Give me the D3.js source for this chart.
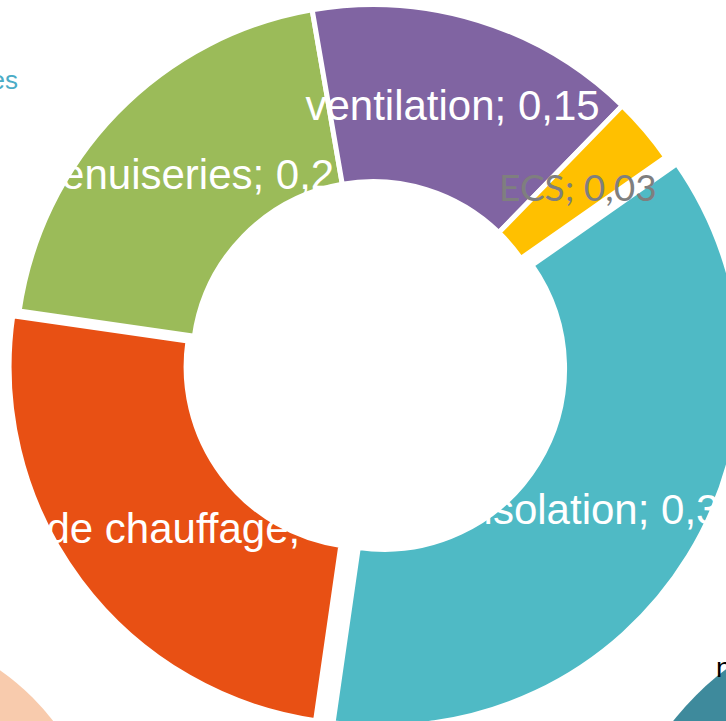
<!DOCTYPE html>
<html>
<head>
<meta charset="utf-8">
<script src="https://cdn.jsdelivr.net/npm/d3@7"></script>
<style>
  body { margin: 0; background: #fff; }
  svg { display: block; }
</style>
</head>
<body>
<div id="donut-chart"></div>
<script>
// share of each kind of work
const categories = ['isolation', 'moyen de chauffage', 'menuiseries', 'ventilation', 'ECS'];
const values = [0.37, 0.25, 0.2, 0.15, 0.03];

// styles
const colors = ['#4FBAC5', '#E85014', '#9BBB59', '#8064A2', '#FFC000'];
const explode = { 'isolation': 13, 'moyen de chauffage': 8 };
const grayLabels = ['ECS'];

const width = 726, height = 721;
const cx = 373, cy = 362;
const outerR = 357.5, innerR = 180.5;
const startDeg = 55;

const fr = d3.formatLocale({ decimal: ',', thousands: ' ', grouping: [3], currency: ['', ' €'] });
const fmt = fr.format('.2~f');

let data = categories.map((c, i) => ({ category: c, value: values[i] }));

let svg = d3.select('#donut-chart')
  .append('svg')
  .attr('width', width)
  .attr('height', height)
  .style('overflow', 'hidden');

//bits of the neighbouring charts cut by the frame
svg.append('circle')
  .attr('cx', -140).attr('cy', 870).attr('r', 244)
  .attr('fill', '#F8CBAD');
svg.append('circle')
  .attr('cx', 900).attr('cy', 900).attr('r', 289)
  .attr('fill', '#3E8A9C');
svg.append('text')
  .attr('x', 18).attr('y', 89)
  .attr('text-anchor', 'end')
  .attr('font-family', 'Liberation Sans, Arial, sans-serif')
  .attr('font-size', '26px')
  .attr('fill', '#4BACC6')
  .text('catégories');
svg.append('text')
  .attr('x', 716).attr('y', 677)
  .attr('font-family', 'Liberation Sans, Arial, sans-serif')
  .attr('font-size', '28px')
  .attr('fill', '#000')
  .text('non réalisés');

let color = d3.scaleOrdinal().domain(categories).range(colors);

let pie = d3.pie()
  .sort(null)
  .value(d => d.value)
  .startAngle(startDeg * Math.PI / 180)
  .endAngle(startDeg * Math.PI / 180 + 2 * Math.PI);

let arc = d3.arc()
  .innerRadius(innerR)
  .outerRadius(outerR);

let arcs = pie(data);

//offset of an exploded slice along its mid angle
function shift(d) {
  const e = explode[d.data.category] || 0;
  const m = (d.startAngle + d.endAngle) / 2;
  return [e * Math.sin(m), -e * Math.cos(m)];
}

let g = svg.append('g')
  .attr('transform', `translate(${cx}, ${cy})`);

g.selectAll('path.slice')
  .data(arcs)
  .enter()
  .append('path')
  .attr('class', 'slice')
  .attr('transform', d => `translate(${shift(d)[0]}, ${shift(d)[1]})`)
  .attr('d', arc)
  .attr('fill', d => color(d.data.category))
  .attr('stroke', '#fff')
  .attr('stroke-width', 5)
  .attr('stroke-linejoin', 'miter');

//data labels: "category; value"
g.selectAll('text.label')
  .data(arcs)
  .enter()
  .append('text')
  .attr('class', 'label')
  .attr('transform', d => {
    const c = arc.centroid(d), s = shift(d);
    return `translate(${c[0] + s[0]}, ${c[1] + s[1]})`;
  })
  .attr('dy', '0.35em')
  .attr('text-anchor', 'middle')
  .attr('font-family', d => grayLabels.includes(d.data.category) ? 'Lato, sans-serif' : 'Liberation Sans, Arial, sans-serif')
  .attr('font-size', d => grayLabels.includes(d.data.category) ? '37px' : '42px')
  .attr('fill', d => grayLabels.includes(d.data.category) ? '#7F7F7F' : '#fff')
  .text(d => `${d.data.category}; ${fmt(d.data.value)}`);
</script>
</body>
</html>
